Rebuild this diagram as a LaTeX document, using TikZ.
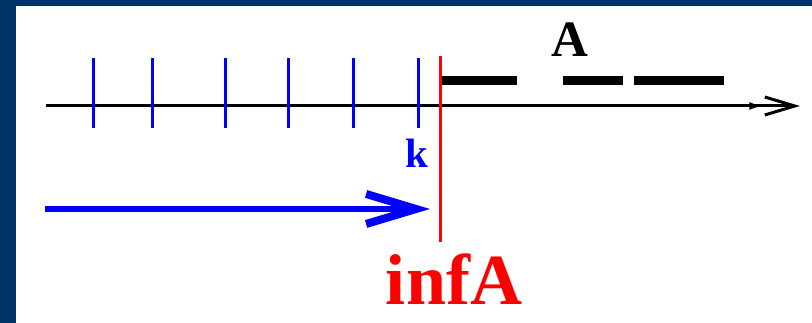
\documentclass[tikz,border=0pt]{standalone}
\usepackage{fontspec}
\setmainfont{Liberation Serif}
\usetikzlibrary{arrows.meta}
\definecolor{frame}{HTML}{003366}
\begin{document}
\begin{tikzpicture}[x=1pt,y=-1pt,
  tick/.style={blue,line width=3pt},
  seg/.style={black,line width=9pt},
  lbl/.style={inner sep=0pt,font=\bfseries}]
\useasboundingbox (0,0) rectangle (812,323);
\fill[white] (0,0) rectangle (812,323);
\fill[frame] (0,0) rectangle (16,323);
\fill[frame] (0,0) rectangle (812,6);
% axis
\coordinate (ax0) at (46,106);
\coordinate (ax1) at (800,106);
\draw[line width=3pt,-{Latex[length=14pt,width=8pt]Straight Barb[length=30pt,width=18pt,line width=3pt]}] (ax0) -- (ax1);
% ticks
\foreach \x/\n in {93/1,152/2,225/3,288/4,353/5,418/6}{
  \coordinate (t\n a) at (\x,58);
  \coordinate (t\n b) at (\x,128);
  \draw[tick] (t\n a) -- (t\n b);
}
% set A segments
\coordinate (s1a) at (442,81); \coordinate (s1b) at (517,81);
\coordinate (s2a) at (563,81); \coordinate (s2b) at (623,81);
\coordinate (s3a) at (634,81); \coordinate (s3b) at (724,81);
\draw[seg] (s1a) -- (s1b);
\draw[seg] (s2a) -- (s2b);
\draw[seg] (s3a) -- (s3b);
% red line
\coordinate (r0) at (440,56);
\coordinate (r1) at (440,242);
\draw[red,line width=3pt] (r0) -- (r1);
% labels
\node[lbl,anchor=base,font=\fontsize{51}{51}\selectfont\bfseries] (A) at (570,57) {A};
\node[lbl,anchor=base,text=blue,font=\fontsize{41}{41}\selectfont\bfseries] (k) at (417,168) {k};
\node[lbl,anchor=base,text=red,font=\fontsize{72}{72}\selectfont\bfseries] (infA) at (454,305) {infA};
% blue arrow
\coordinate (b0) at (45,209);
\coordinate (b1) at (430,209);
\draw[blue,line width=6pt,-{Straight Barb[length=50pt,width=30pt,line width=8pt]}] (b0) -- (b1);
\end{tikzpicture}
\end{document}
